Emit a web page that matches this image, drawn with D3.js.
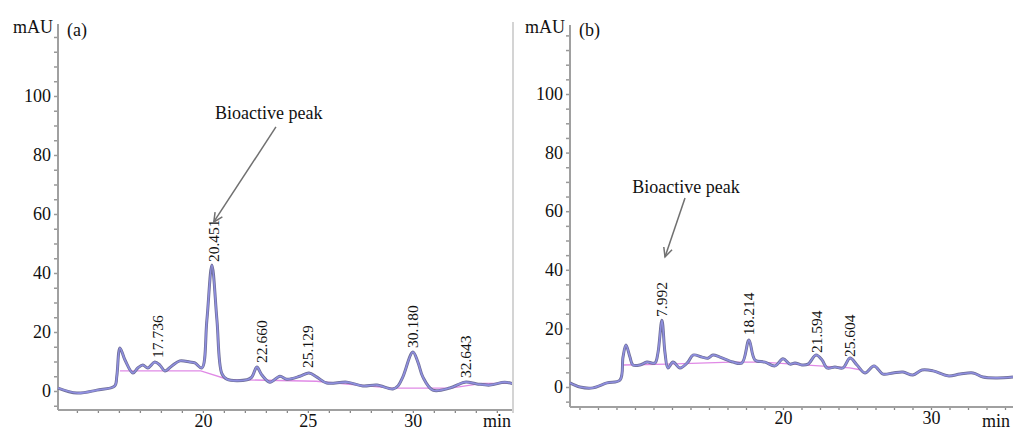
<!DOCTYPE html>
<html>
<head>
<meta charset="utf-8">
<script src="https://cdn.jsdelivr.net/npm/d3@7"></script>
<style>
  body { margin: 0; background: #fff; }
  svg { display: block; }
  text { font-family: "Liberation Serif", "Times New Roman", serif; fill: #111; }
</style>
</head>
<body>
<div id="chart"></div>
<script>
// panel (a) trace, minutes / mAU
const timeA = [13.1, 14.0, 14.95, 15.8, 15.9, 16.05, 16.29, 16.67, 16.9, 17.14, 17.38, 17.71, 17.95, 18.19, 18.52, 18.9, 19.38, 19.62, 19.95,
  20.19, 20.43, 20.67, 20.9, 21.14, 22.1, 22.33, 22.57, 22.8, 23.19, 23.67, 24.0, 24.62, 25.05, 25.43, 25.9, 26.86, 27.62, 28.29, 29.05,
  29.3, 29.52, 30.0, 30.24, 30.48, 30.95, 31.76, 32.48, 33.05, 33.67, 34.38, 34.77];
const signalA = [1.0, -0.7, 0.3, 1.7, 5.0, 14.6, 10.5, 6.1, 7.8, 8.8, 7.8, 9.8, 8.8, 6.8, 8.5, 10.2, 9.8, 9.5, 7.8,
  24, 42.7, 24, 6.0, 4.0, 3.8, 4.7, 8.1, 5.5, 3.0, 5.0, 4.0, 5.0, 6.1, 4.7, 2.7, 3.0, 1.7, 2.0, 0.7,
  1.8, 4.7, 13.2, 9.8, 4.7, 0.3, 1.0, 3.0, 2.4, 2.0, 3.0, 2.4];
const baseTimeA = [16.05, 19.9, 21.2, 25.4, 29.0, 31.8, 33.3, 34.77];
const baseA = [6.8, 6.8, 3.9, 3.3, 1.0, 1.0, 2.6, 2.6];
const peakTimeA = [17.86, 20.52, 22.8, 25.0, 30.0, 32.5];
const peakTopA = [11.2, 43.7, 9.5, 7.8, 14.6, 4.4];
const peakLabelA = ["17.736", "20.451", "22.660", "25.129", "30.180", "32.643"];

// panel (b) trace
const timeB = [5.61, 6.28, 7.16, 8.11, 8.99, 9.19, 9.39, 9.66, 9.86, 10.34, 10.81, 11.35, 11.55, 11.82, 12.03, 12.23, 12.57, 13.04, 13.58,
  13.92, 14.53, 14.93, 15.27, 15.74, 16.62, 17.23, 17.7, 18.11, 18.78, 19.46, 20.0, 20.47, 20.81, 21.28, 21.69, 22.23, 22.64, 22.97,
  23.51, 24.05, 24.53, 25.0, 25.54, 26.15, 26.76, 27.43, 28.11, 28.78, 29.39, 30.14, 31.15, 31.96, 32.84, 33.51, 34.46, 35.54];
const signalB = [1.4, 0, -0.3, 1.4, 2.4, 10.2, 14.3, 10.2, 7.5, 7.5, 8.5, 8.2, 11.6, 22.8, 11.6, 6.5, 8.5, 6.5, 8.5,
  10.9, 10.2, 9.8, 10.9, 10.2, 8.5, 8.2, 16.0, 9.2, 8.5, 7.2, 9.6, 7.8, 8.2, 7.5, 7.8, 10.9, 9.2, 6.5,
  6.8, 6.5, 9.9, 7.5, 4.8, 7.2, 4.4, 4.8, 5.1, 4.1, 5.8, 5.5, 3.8, 4.4, 4.8, 3.4, 3.1, 3.4];
const baseTimeB = [9.19, 12.2, 16.5, 18.5, 24.5, 25.3];
const baseB = [7.5, 7.8, 8.5, 8.5, 6.5, 5.8];
const peakTimeB = [11.82, 17.7, 22.3, 24.5];
const peakTopB = [23.9, 17.7, 11.6, 10.2];
const peakLabelB = ["7.992", "18.214", "21.594", "25.604"];

const yTicks = [0, 20, 40, 60, 80, 100];
const xTicksA = [20, 25, 30];
const xTicksB = [20, 30];

const W = 1013, H = 432;
const svg = d3.select("#chart").append("svg").attr("width", W).attr("height", H);

function drawPanel(p) {
  const x = d3.scaleLinear().domain(p.xDomain).range(p.xRange);
  const y = d3.scaleLinear().domain(p.yDomain).range(p.yRange);
  const g = svg.append("g");
  const x0 = p.xRange[0], yb = p.yRange[0];

  // y axis: minor ticks every 5, labels every 20
  const yMinor = d3.range(-5, p.yDomain[1], 5);
  const yAxis = g.append("g").attr("transform", `translate(${x0},0)`)
    .call(d3.axisLeft(y).tickValues(yMinor).tickSize(4).tickPadding(3)
      .tickFormat(d => yTicks.includes(d) ? d : ""));
  yAxis.select(".domain").remove();
  yAxis.selectAll(".tick line").attr("stroke", "#999").attr("stroke-width", 1.5);
  yAxis.selectAll(".tick text").style("font-family", "Liberation Serif").style("font-size", "18px").attr("fill", "#111");

  // x axis
  const xAxis = g.append("g").attr("transform", `translate(0,${yb})`)
    .call(d3.axisBottom(x).tickValues(p.xMinor).tickSize(3).tickPadding(1)
      .tickFormat(d => p.xTicks.includes(d) ? d : ""));
  xAxis.select(".domain").remove();
  xAxis.selectAll(".tick line").attr("stroke", "#888").attr("stroke-width", 1.3);
  xAxis.selectAll(".tick text").style("font-family", "Liberation Serif").style("font-size", "18px").attr("fill", "#111");

  g.append("line").attr("x1", x0).attr("x2", x0).attr("y1", p.yRange[1]).attr("y2", yb)
    .attr("stroke", "#a0a0a0").attr("stroke-width", 2);
  g.append("line").attr("x1", x0).attr("x2", p.xRange[1]).attr("y1", yb).attr("y2", yb)
    .attr("stroke", "#a0a0a0").attr("stroke-width", 2);

  g.append("text").attr("x", x0 - 5).attr("y", 33).attr("text-anchor", "end")
    .style("font-size", "18px").text("mAU");
  g.append("text").attr("x", x0 + 9).attr("y", 36)
    .style("font-size", "18px").text(p.tag);
  g.append("text").attr("x", p.minX).attr("y", 427).attr("text-anchor", "middle")
    .style("font-size", "18px").text("min");

  // baseline
  const bl = d3.line().x(d => x(d[0])).y(d => y(d[1]));
  g.append("path").datum(d3.zip(p.baseT, p.baseV))
    .attr("d", bl).attr("fill", "none").attr("stroke", "#e08ae6").attr("stroke-width", 1.3);

  // trace
  const line = d3.line().x(d => x(d[0])).y(d => y(d[1])).curve(d3.curveCatmullRom.alpha(0.5));
  const pts = d3.zip(p.time, p.signal);
  g.append("path").datum(pts).attr("d", line).attr("fill", "none")
    .attr("stroke", "#6e6e96").attr("stroke-width", 3).attr("stroke-linejoin", "round");
  g.append("path").datum(pts).attr("d", line).attr("fill", "none")
    .attr("stroke", "#8f8fe0").attr("stroke-width", 1.6).attr("stroke-linejoin", "round");

  // peak labels
  g.selectAll("text.peak").data(d3.zip(p.peakT, p.peakV, p.peakL)).enter()
    .append("text").attr("class", "peak")
    .attr("transform", d => `translate(${x(d[0])},${y(d[1])}) rotate(-90)`)
    .attr("dy", "0.35em").style("font-size", "15.5px").text(d => d[2]);

  // bioactive arrow
  const a = p.arrow;
  g.append("text").attr("x", x(a.text[0])).attr("y", y(a.text[1])).attr("text-anchor", "middle")
    .style("font-size", "18px").text("Bioactive peak");
  const sx = x(a.from[0]), sy = y(a.from[1]), ex = x(a.to[0]), ey = y(a.to[1]);
  g.append("line").attr("x1", sx).attr("y1", sy).attr("x2", ex).attr("y2", ey)
    .attr("stroke", "#707070").attr("stroke-width", 1.5);
  const ang = Math.atan2(sy - ey, sx - ex), hl = 10;
  g.append("path")
    .attr("d", `M${ex + hl * Math.cos(ang - 0.45)},${ey + hl * Math.sin(ang - 0.45)}L${ex},${ey}L${ex + hl * Math.cos(ang + 0.45)},${ey + hl * Math.sin(ang + 0.45)}`)
    .attr("fill", "none").attr("stroke", "#707070").attr("stroke-width", 1.5);
}

drawPanel({
  tag: "(a)", xDomain: [13.1, 34.77], xRange: [58, 513], yDomain: [-6.44, 124.4], yRange: [410, 24],
  xMinor: d3.range(14, 35, 1), xTicks: xTicksA, minX: 497,
  time: timeA, signal: signalA, baseT: baseTimeA, baseV: baseA,
  peakT: peakTimeA, peakV: peakTopA, peakL: peakLabelA,
  arrow: { text: [23.14, 92.2], from: [23.48, 89.5], to: [20.52, 57.3] }
});

drawPanel({
  tag: "(b)", xDomain: [5.61, 35.54], xRange: [570, 1013], yDomain: [-6.83, 123.55], yRange: [407, 25],
  xMinor: d3.range(6.25, 35.5, 1.25), xTicks: xTicksB, minX: 996,
  time: timeB, signal: signalB, baseT: baseTimeB, baseV: baseB,
  peakT: peakTimeB, peakV: peakTopB, peakL: peakLabelB,
  arrow: { text: [13.45, 66.2], from: [13.38, 64.5], to: [12.03, 44.4] }
});

// light divider at the right edge of panel (a)
svg.append("line").attr("x1", 513).attr("x2", 513).attr("y1", 22).attr("y2", 413)
  .attr("stroke", "#d4d4d4").attr("stroke-width", 2);
</script>
</body>
</html>
